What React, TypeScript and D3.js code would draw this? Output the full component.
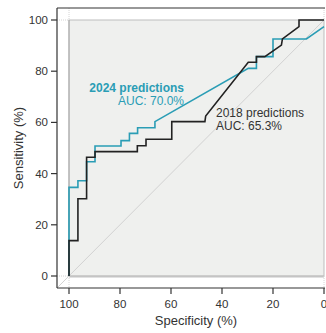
import React from "react";
import * as d3 from "d3";

const specTicks = [100, 80, 60, 40, 20, 0];
const sensTicks = [0, 20, 40, 60, 80, 100];

const spec2018 = [100, 100, 96.5, 96.5, 93.1, 93.1, 89.8, 89.8, 73.2, 73.2, 69.8, 69.8, 59.7, 59.7, 46.7, 46.4, 29.7, 26.5, 26.5, 23.2, 16.7, 16.3, 9.8, 9.8, 0];
const sens2018 = [0, 13.8, 13.8, 30.2, 30.2, 46.4, 46.4, 48.6, 48.6, 50.9, 50.9, 53.4, 53.4, 60.3, 60.3, 62.5, 83.5, 83.5, 85.7, 85.7, 90.2, 92.6, 97.4, 100, 100];

const spec2024 = [100, 100, 96.5, 96.5, 93.1, 93.1, 89.8, 89.8, 79.6, 79.6, 76.3, 76.3, 73.1, 73.1, 66.3, 66.3, 29.7, 26.5, 26.5, 20, 20, 6.9, 0];
const sens2024 = [0, 34.6, 34.6, 37.2, 37.2, 44.6, 44.6, 50.8, 50.8, 52.9, 52.9, 55.7, 55.7, 57.9, 57.9, 60.3, 81.1, 81.1, 85.7, 85.7, 92.6, 92.6, 97.4];

const label2024 = ["2024 predictions", "AUC: 70.0%"];
const label2018 = ["2018 predictions", "AUC: 65.3%"];

const CYAN = "#2a9db5";
const DARK = "#222";
const TXT = "#333";

export default function App() {
  const W = 326, H = 333;
  const x = d3.scaleLinear().domain([100, 0]).range([69, 324]);
  const y = d3.scaleLinear().domain([0, 100]).range([276, 20]);
  const axL = 57, axT = 8, axB = 288, axR = 325;

  const line = d3.line<[number, number]>().x(d => x(d[0])).y(d => y(d[1]));
  const d2018 = line(spec2018.map((s, i) => [s, sens2018[i]] as [number, number])) || "";
  const d2024 = line(spec2024.map((s, i) => [s, sens2024[i]] as [number, number])) || "";

  const font = "'Liberation Sans', Arial, sans-serif";

  return (
    <svg width={W} height={H} style={{ position: "absolute", left: 0, top: 0 }} fontFamily={font}>
      <rect x={0} y={0} width={W} height={H} fill="#fff" />
      {/* panel */}
      <rect x={x(100)} y={y(100)} width={x(0) - x(100)} height={y(0) - y(100)} fill="#eff0ee" stroke="#bdbdbd" strokeWidth={1} />
      <line x1={x(100)} x2={x(0)} y1={y(0) + 0.5} y2={y(0) + 0.5} stroke="#c4c4c4" strokeWidth={2} />
      <line x1={x(100)} x2={x(100)} y1={y(100)} y2={y(0)} stroke="#a8a8a8" strokeWidth={1} />
      {/* dotted extensions */}
      <g stroke="#d4d4d4" strokeWidth={1} strokeDasharray="1,1">
        <line x1={axL} x2={x(100)} y1={y(100)} y2={y(100)} />
        <line x1={x(100)} x2={x(100)} y1={axT} y2={y(100)} />
        <line x1={axL} x2={x(100)} y1={y(0)} y2={y(0)} />
        <line x1={x(100)} x2={x(100)} y1={y(0)} y2={axB} />
        <line x1={x(0)} x2={x(0)} y1={y(0)} y2={axB} />
        <line x1={x(0)} x2={x(0)} y1={axT} y2={y(100)} />
      </g>
      {/* chance diagonal */}
      <line x1={axL} y1={axB} x2={x(0)} y2={y(100)} stroke="#d2d2d2" strokeWidth={1} />
      {/* axis frame */}
      <g stroke="#333" strokeWidth={1.2} fill="none">
        <line x1={axL} x2={axL} y1={axT} y2={axB} />
        <line x1={axL} x2={axR} y1={axT} y2={axT} />
        <line x1={axL} x2={axR} y1={axB} y2={axB} />
      </g>
      {/* y ticks */}
      {sensTicks.map(t => (
        <g key={"y" + t}>
          <line x1={axL - 6} x2={axL} y1={y(t)} y2={y(t)} stroke="#333" strokeWidth={1.2} />
          <text x={axL - 9} y={y(t) + 4} textAnchor="end" fontSize={11.5} fill={TXT}>{t}</text>
        </g>
      ))}
      {/* x ticks */}
      {specTicks.map(t => (
        <g key={"x" + t}>
          <line x1={x(t)} x2={x(t)} y1={axB} y2={axB + 6} stroke="#333" strokeWidth={1.2} />
          <text x={x(t)} y={axB + 19.5} textAnchor="middle" fontSize={11.5} fill={TXT}>{t}</text>
        </g>
      ))}
      <text x={(axL + axR) / 2 + 5} y={325} textAnchor="middle" fontSize={13} fill={TXT}>Specificity (%)</text>
      <text transform={`translate(23,${(axT + axB) / 2}) rotate(-90)`} textAnchor="middle" fontSize={13} fill={TXT}>Sensitivity (%)</text>
      {/* curves */}
      <path d={d2024} fill="none" stroke={CYAN} strokeWidth={1.6} strokeLinejoin="miter" />
      <path d={d2018} fill="none" stroke={DARK} strokeWidth={1.6} strokeLinejoin="miter" />
      {/* labels */}
      <text x={184} y={92} textAnchor="end" fontSize={12} fontWeight="bold" fill={CYAN}>{label2024[0]}</text>
      <text x={184} y={104.5} textAnchor="end" fontSize={12} fill={CYAN}>{label2024[1]}</text>
      <text x={216} y={117} textAnchor="start" fontSize={12} fill={TXT}>{label2018[0]}</text>
      <text x={216} y={130} textAnchor="start" fontSize={12} fill={TXT}>{label2018[1]}</text>
    </svg>
  );
}
